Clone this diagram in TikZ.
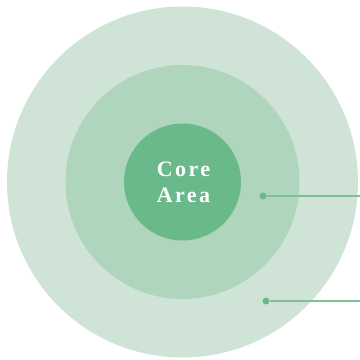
\documentclass[tikz,border=0pt]{standalone}
\usepackage{fontspec}
\setmainfont{Liberation Serif}
\usetikzlibrary{positioning}

\definecolor{zoneout}{RGB}{207,228,214}
\definecolor{zonemid}{RGB}{175,213,188}
\definecolor{zonecore}{RGB}{106,185,139}
\definecolor{leadcol}{RGB}{125,192,150}

\begin{document}
\begin{tikzpicture}[x=1pt,y=1pt,
    zone/.style={circle, inner sep=0pt, draw=none},
    pin/.style={circle, fill=zonecore, minimum size=7pt, inner sep=0pt},
    leader/.style={draw=leadcol, line width=1.3pt}]
  \useasboundingbox (0,0) rectangle (360,360);

  % three nested zones
  \node[zone, fill=zoneout, minimum size=351pt] (outer) at (182.5,178) {};
  \node[zone, fill=zonemid, minimum size=234pt] (middle) at (182.5,178) {};
  \node[zone, fill=zonecore, minimum size=117pt, text=white, align=center,
        font=\fontsize{22}{26}\selectfont\bfseries\addfontfeatures{LetterSpace=11}]
        (core) at (182.5,178) {\hspace{2pt}Core\\\hspace{2pt}Area};

  % leader lines
  \node[pin] (p1) at (263,164) {};
  \node[pin] (p2) at (266,59) {};
  \coordinate (e1) at (360,164);
  \coordinate (e2) at (360,59);
  \draw[leader] (p1) -- (e1);
  \draw[leader] (p2) -- (e2);
\end{tikzpicture}
\end{document}
